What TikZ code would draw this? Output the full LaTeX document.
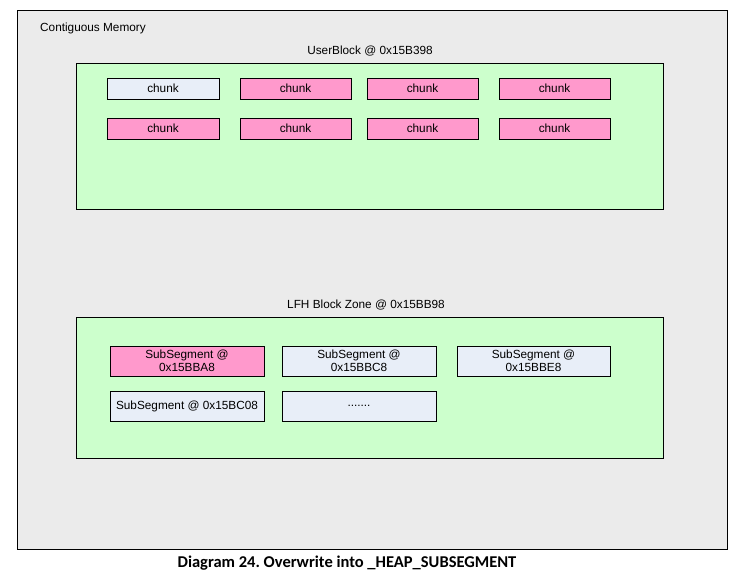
\documentclass[tikz,border=0pt]{standalone}
\usepackage{fontspec}
\setmainfont{Liberation Sans}
\newfontfamily\capfont{Carlito}
\definecolor{outerfill}{HTML}{EBEBEB}
\definecolor{greenfill}{HTML}{CCFFCC}
\definecolor{pinkfill}{HTML}{FF99CC}
\definecolor{bluefill}{HTML}{E8EEF8}
\tikzset{
  px/.style={x=1pt,y=-1pt},
  zone/.style={draw=black, line width=0.8pt, fill=greenfill},
  cell/.style={draw=black, line width=0.8pt, align=center, inner sep=0pt,
    font=\fontsize{11.8}{12.5}\selectfont},
  pinkcell/.style={cell, fill=pinkfill},
  bluecell/.style={cell, fill=bluefill},
  lbl/.style={font=\fontsize{11.8}{13}\selectfont, inner sep=0pt}
}
\begin{document}
\frenchspacing
\begin{tikzpicture}[px]
\useasboundingbox (0,0) rectangle (747,577);
\fill[white] (0,0) rectangle (747,577);
% outer
\draw[fill=outerfill, line width=0.8pt] (17,10) rectangle (727,549);
\node[lbl, anchor=west] (title) at (40,28) {Contiguous Memory};
% user block
\node[lbl] (ublbl) at (370,51) {UserBlock @ 0x15B398};
\draw[zone] (76,63) rectangle (663,209);
\node[bluecell, minimum width=112pt, minimum height=21pt] (c1) at (163,88.5) {chunk};
\node[pinkcell, minimum width=111pt, minimum height=21pt] (c2) at (295.5,88.5) {chunk};
\node[pinkcell, minimum width=111pt, minimum height=21pt] (c3) at (422.5,88.5) {chunk};
\node[pinkcell, minimum width=111pt, minimum height=21pt] (c4) at (554.5,88.5) {chunk};
\node[pinkcell, minimum width=112pt, minimum height=21pt] (c5) at (163,128.5) {chunk};
\node[pinkcell, minimum width=111pt, minimum height=21pt] (c6) at (295.5,128.5) {chunk};
\node[pinkcell, minimum width=111pt, minimum height=21pt] (c7) at (422.5,128.5) {chunk};
\node[pinkcell, minimum width=111pt, minimum height=21pt] (c8) at (554.5,128.5) {chunk};
% LFH zone
\node[lbl] (lfhlbl) at (366,305) {LFH Block Zone @ 0x15BB98};
\draw[zone] (76,317) rectangle (663,458);
\node[pinkcell, minimum width=154pt, minimum height=30pt] (s1) at (187,361) {SubSegment @\\0x15BBA8};
\node[bluecell, minimum width=154pt, minimum height=30pt] (s2) at (359,361) {SubSegment @\\0x15BBC8};
\node[bluecell, minimum width=153pt, minimum height=30pt] (s3) at (533.5,361) {SubSegment @\\0x15BBE8};
\node[bluecell, minimum width=154pt, minimum height=30pt] (s4) at (187,406) {SubSegment @ 0x15BC08};
\node[bluecell, minimum width=154pt, minimum height=30pt] (s5) at (359,406) {.......};
% caption
\node[inner sep=0pt, font=\capfont\bfseries\fontsize{16.5}{18}\selectfont] (cap) at (347,563) {Diagram 24. Overwrite into \_HEAP\_SUBSEGMENT};
\end{tikzpicture}
\end{document}
